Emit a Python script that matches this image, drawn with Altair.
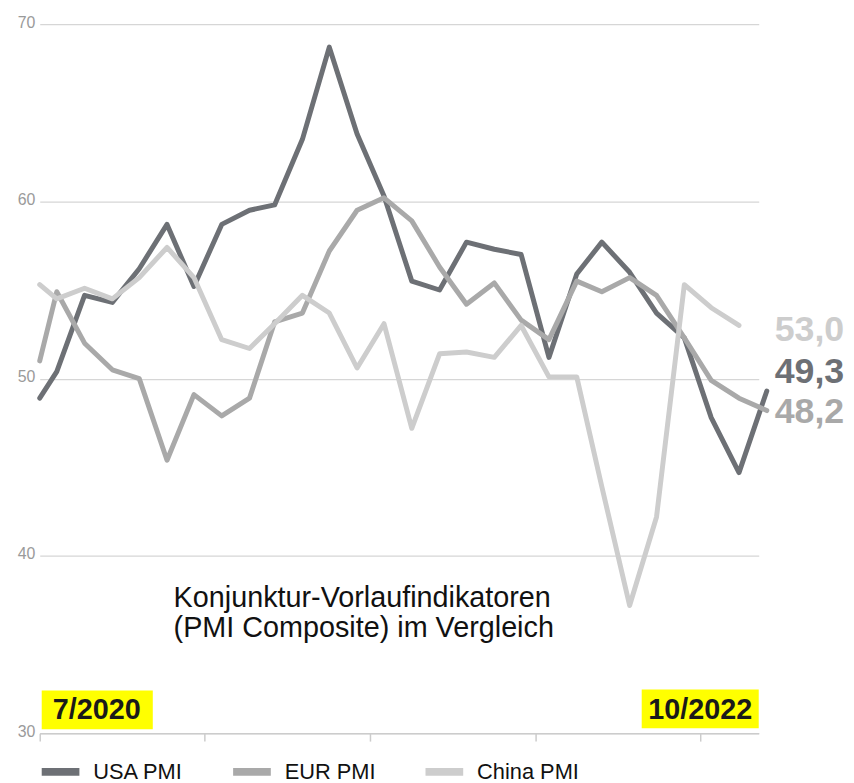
import altair as alt
import pandas as pd

# ---- data -------------------------------------------------------------
series_names = ["USA PMI", "EUR PMI", "China PMI"]
series_colors = ["#6d7075", "#a9a9a9", "#cdcdcd"]

dates = [
    "2020-07-01", "2020-07-20", "2020-08-20", "2020-09-20", "2020-10-20",
    "2020-11-20", "2020-12-20", "2021-01-20", "2021-02-20", "2021-03-20",
    "2021-04-20", "2021-05-20", "2021-06-20", "2021-07-20", "2021-08-20",
    "2021-09-20", "2021-10-20", "2021-11-20", "2021-12-20", "2022-01-20",
    "2022-02-20", "2022-03-20", "2022-04-20", "2022-05-20", "2022-06-20",
    "2022-07-20", "2022-08-20", "2022-09-20",
]

usa_pmi = [48.9, 50.4, 54.7, 54.3, 56.2, 58.7, 55.2, 58.7, 59.5, 59.8,
           63.5, 68.7, 63.8, 60.3, 55.5, 55.0, 57.7, 57.3, 57.0, 51.2,
           55.9, 57.7, 56.0, 53.7, 52.3, 47.8, 44.7, 49.3]
eur_pmi = [51.0, 54.9, 52.0, 50.5, 50.0, 45.4, 49.1, 47.9, 48.9, 53.2,
           53.7, 57.2, 59.5, 60.2, 58.9, 56.3, 54.2, 55.4, 53.3, 52.2,
           55.5, 54.9, 55.7, 54.7, 52.3, 49.9, 48.9, 48.2]
china_pmi = [55.3, 54.5, 55.1, 54.5, 55.7, 57.4, 55.7, 52.2, 51.7, 53.1,
             54.7, 53.7, 50.6, 53.1, 47.2, 51.4, 51.5, 51.2, 53.0, 50.1,
             50.1, 43.9, 37.2, 42.2, 55.3, 54.0, 53.0]

end_texts = ["49,3", "48,2", "53,0"]
y_ticks = [30, 40, 50, 60, 70]
x_tick_dates = [(2020, 7, 1), (2021, 1, 1), (2021, 7, 4), (2022, 1, 5), (2022, 7, 8)]
period_labels = ["7/2020", "10/2022"]
note_lines = ["Konjunktur-Vorlaufindikatoren", "(PMI Composite) im Vergleich"]

# ---- tables -----------------------------------------------------------
all_values = [usa_pmi, eur_pmi, china_pmi]
rows = []
for name, vals in zip(series_names, all_values):
    for d, v in zip(dates, vals):
        rows.append({"series": name, "date": d, "value": v})
df = pd.DataFrame(rows)

end_df = pd.DataFrame({
    "series": series_names,
    "date": [dates[-1]] * 3,
    "value": [vals[-1] for vals in all_values],
    "label": end_texts,
})
one = pd.DataFrame({"k": [0]})

FONT = "Liberation Sans"

x_scale = alt.Scale(
    type="utc",
    domain=[alt.DateTime(year=2020, month=7, date=1, utc=True),
            alt.DateTime(year=2022, month=9, date=11, utc=True)],
)
y_scale = alt.Scale(domain=[30, 70], nice=False, zero=False)
color_scale = alt.Scale(domain=series_names, range=series_colors)

x_enc = alt.X(
    "date:T", scale=x_scale, title=None,
    axis=alt.Axis(
        values=[alt.DateTime(year=y, month=m, date=d, utc=True) for y, m, d in x_tick_dates],
        labels=False, grid=False, domainColor="#cccccc", tickColor="#cccccc",
        tickSize=8, domainWidth=1.5, tickWidth=1.5,
    ),
)
y_enc = alt.Y(
    "value:Q", scale=y_scale, title=None,
    axis=alt.Axis(
        values=y_ticks, grid=True, gridColor="#d6d6d6", gridWidth=1.2,
        domain=False, ticks=False, labelColor="#9a9a9a", labelFontSize=16,
        labelFont=FONT, labelPadding=5, labelOffset=-2,
    ),
)

lines = alt.Chart(df).mark_line(
    strokeWidth=5, strokeCap="round", strokeJoin="round"
).encode(
    x=x_enc,
    y=y_enc,
    color=alt.Color(
        "series:N", scale=color_scale,
        legend=alt.Legend(
            title=None, orient="none", legendX=-2, legendY=731,
            direction="horizontal", symbolType="stroke", symbolStrokeWidth=8,
            symbolSize=1444, labelFontSize=22, labelFont=FONT,
            labelColor="#111111", columnPadding=34, labelOffset=10,
        ),
    ),
)

end_layers = []
for name, dy in zip(series_names, [-19, 2, 5]):
    end_layers.append(
        alt.Chart(end_df).transform_filter(alt.datum.series == name)
        .mark_text(align="left", baseline="middle", dx=8, dy=dy,
                   fontSize=36, fontWeight="bold", font=FONT)
        .encode(
            x=alt.X("date:T", scale=x_scale),
            y=alt.Y("value:Q", scale=y_scale),
            text="label:N",
            color=alt.Color("series:N", scale=color_scale, legend=None),
        )
    )

rect_start = alt.Chart(one).mark_rect(color="#ffff00").encode(
    x=alt.value(2), x2=alt.value(114), y=alt.value(672), y2=alt.value(711))
rect_end = alt.Chart(one).mark_rect(color="#ffff00").encode(
    x=alt.value(607), x2=alt.value(725), y=alt.value(671), y2=alt.value(710))

text_start = alt.Chart(one).mark_text(
    align="center", baseline="alphabetic", fontSize=29, fontWeight="bold",
    font=FONT, color="#1a1a1a"
).encode(x=alt.value(57.5), y=alt.value(701), text=alt.value(period_labels[0]))
text_end = alt.Chart(one).mark_text(
    align="center", baseline="alphabetic", fontSize=29, fontWeight="bold",
    font=FONT, color="#1a1a1a"
).encode(x=alt.value(666), y=alt.value(701), text=alt.value(period_labels[1]))

note = alt.Chart(one).mark_text(
    align="left", baseline="alphabetic", fontSize=29, lineHeight=30,
    font=FONT, color="#111111"
).encode(x=alt.value(135), y=alt.value(588), text=alt.value(note_lines))

chart = alt.layer(
    rect_start, rect_end, lines, *end_layers, text_start, text_end, note
).properties(
    width=725, height=715,
    padding={"left": 32, "top": 13, "right": 88, "bottom": 47},
    autosize=alt.AutoSizeParams(type="none"),
).configure(font=FONT).configure_view(strokeWidth=0)

chart.save("out.html", embed_options={"renderer": "svg", "actions": False})
